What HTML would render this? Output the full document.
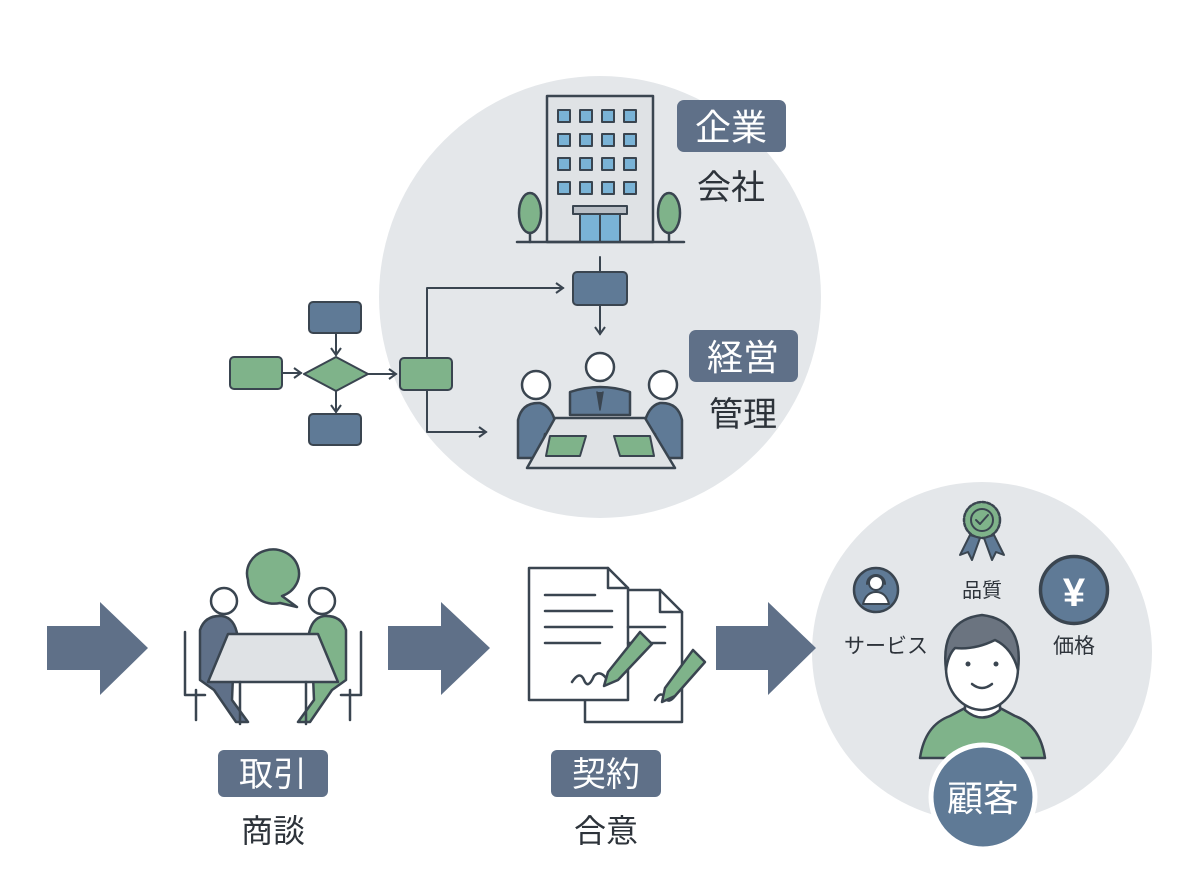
<!DOCTYPE html>
<html><head><meta charset="utf-8"><style>
html,body{margin:0;padding:0;background:#fff}
svg{display:block}
text{font-family:"Liberation Sans","Noto Sans CJK JP",sans-serif}
</style></head><body>
<svg width="1200" height="896" viewBox="0 0 1200 896" xmlns="http://www.w3.org/2000/svg">
<defs>
<marker id="ah" markerWidth="12" markerHeight="12" refX="9" refY="6" orient="auto" markerUnits="userSpaceOnUse">
<path d="M2,1 L9,6 L2,11" fill="none" stroke="#3a4550" stroke-width="2"/>
</marker>
</defs>
<g stroke="#3a4550" stroke-width="2.5" stroke-linejoin="round" stroke-linecap="round">
<!-- circles -->
<circle cx="600" cy="297" r="221" fill="#e4e7ea" stroke="none"/>
<circle cx="982" cy="652" r="170" fill="#e4e7ea" stroke="none"/>

<!-- building -->
<rect x="547" y="96" width="106" height="146" fill="#dfe2e5"/>
<g fill="#7ab3d6" stroke-width="2">
<rect x="558" y="110" width="12" height="12"/><rect x="580" y="110" width="12" height="12"/><rect x="602" y="110" width="12" height="12"/><rect x="624" y="110" width="12" height="12"/>
<rect x="558" y="134" width="12" height="12"/><rect x="580" y="134" width="12" height="12"/><rect x="602" y="134" width="12" height="12"/><rect x="624" y="134" width="12" height="12"/>
<rect x="558" y="158" width="12" height="12"/><rect x="580" y="158" width="12" height="12"/><rect x="602" y="158" width="12" height="12"/><rect x="624" y="158" width="12" height="12"/>
<rect x="558" y="182" width="12" height="12"/><rect x="580" y="182" width="12" height="12"/><rect x="602" y="182" width="12" height="12"/><rect x="624" y="182" width="12" height="12"/>
</g>
<rect x="573" y="206" width="54" height="8" fill="#b8bec5" stroke-width="2"/>
<rect x="580" y="214" width="40" height="28" fill="#7ab3d6" stroke-width="2"/>
<line x1="600" y1="214" x2="600" y2="242" stroke-width="2"/>
<ellipse cx="530" cy="213" rx="11" ry="20" fill="#7fb38a"/><line x1="530" y1="233" x2="530" y2="242"/>
<ellipse cx="669" cy="213" rx="11" ry="20" fill="#7fb38a"/><line x1="669" y1="233" x2="669" y2="242"/>
<line x1="517" y1="242" x2="684" y2="242"/>

<!-- flowchart -->
<line x1="600" y1="257" x2="600" y2="272" stroke-width="2"/>
<rect x="573" y="272" width="54" height="33" rx="4" fill="#5f7a96" stroke-width="2"/>
<line x1="600" y1="305" x2="600" y2="334" stroke-width="2" marker-end="url(#ah)"/>
<rect x="400" y="358" width="52" height="32" rx="4" fill="#7fb38a" stroke-width="2"/>
<path d="M427,358 V288 H563" fill="none" stroke-width="2" marker-end="url(#ah)"/>
<path d="M427,390 V432 H486" fill="none" stroke-width="2" marker-end="url(#ah)"/>
<rect x="230" y="357" width="52" height="32" rx="4" fill="#7fb38a" stroke-width="2"/>
<line x1="282" y1="373" x2="301" y2="373" stroke-width="2" marker-end="url(#ah)"/>
<path d="M304,374 L336,357 L368,374 L336,391 Z" fill="#7fb38a" stroke-width="2"/>
<rect x="309" y="302" width="52" height="31" rx="4" fill="#5f7a96" stroke-width="2"/>
<line x1="336" y1="333" x2="336" y2="355" stroke-width="2" marker-end="url(#ah)"/>
<line x1="336" y1="391" x2="336" y2="412" stroke-width="2" marker-end="url(#ah)"/>
<rect x="309" y="414" width="52" height="31" rx="4" fill="#5f7a96" stroke-width="2"/>
<line x1="368" y1="374" x2="396" y2="374" stroke-width="2" marker-end="url(#ah)"/>

<!-- management meeting -->
<path d="M570,415 V392 Q600,382 630,392 V415 Z" fill="#5f7a96"/>
<path d="M597,392 L600,410 L603,392" fill="#3a4550" stroke-width="1.5"/>
<circle cx="600" cy="367" r="14" fill="#fff"/>
<circle cx="536" cy="385" r="14" fill="#fff"/>
<circle cx="663" cy="385" r="14" fill="#fff"/>
<path d="M518,458 V420 Q522,402 540,403 Q552,406 556,425 L574,432 L560,440 L545,434 L540,458 Z" fill="#5f7a96"/>
<path d="M682,458 V420 Q678,402 660,403 Q648,406 644,425 L626,432 L640,440 L655,434 L660,458 Z" fill="#5f7a96"/>
<path d="M555,418 H645 L675,468 H527 Z" fill="#dfe2e5"/>
<path d="M550,436 H586 L580,456 H546 Z" fill="#7fb38a" stroke-width="2"/>
<path d="M614,436 H650 L654,456 H620 Z" fill="#7fb38a" stroke-width="2"/>

<!-- block arrows -->
<g fill="#5f7088" stroke="none">
<path d="M47,626 H100 V602 L148,648 L100,695 V670 H47 Z"/>
<path d="M388,626 H441 V602 L490,648 L441,695 V670 H388 Z"/>
<path d="M716,626 H768 V602 L816,648 L768,695 V670 H716 Z"/>
</g>

<!-- negotiation meeting -->
<path d="M248,580 A26,24 0 1 1 282,596 L297,607 L280,603 A26,24 0 0 1 248,580 Z" fill="#7fb38a"/>
<circle cx="224" cy="601" r="13" fill="#fff"/>
<circle cx="322" cy="601" r="13" fill="#fff"/>
<path d="M200,680 V630 Q205,615 222,616 Q236,618 238,640 L262,646 L250,656 L234,652 L232,700 L248,722 H236 L214,690 Z" fill="#5f7088"/>
<path d="M346,680 V630 Q341,615 324,616 Q310,618 308,640 L284,646 L296,656 L312,652 L314,700 L298,722 H310 L332,690 Z" fill="#7fb38a"/>
<path d="M185,632 V695 H205" fill="none"/><path d="M361,632 V695 H341" fill="none"/>
<path d="M196,690 V720 M350,690 V720" fill="none"/>
<path d="M228,634 H318 L338,682 H208 Z" fill="#dfe2e5"/>
<path d="M240,682 V724 M306,682 V724" fill="none"/>

<!-- contract -->
<path d="M585,590 H660 L682,612 V722 H585 Z" fill="#fff"/>
<path d="M660,590 V612 H682" fill="none"/>
<path d="M529,568 H608 L628,588 V700 H529 Z" fill="#fff"/>
<path d="M608,568 V588 H628" fill="none"/>
<g stroke-width="2.5">
<line x1="545" y1="595" x2="595" y2="595"/><line x1="545" y1="611" x2="612" y2="611"/>
<line x1="545" y1="627" x2="612" y2="627"/><line x1="545" y1="643" x2="600" y2="643"/>
<line x1="628" y1="627" x2="665" y2="627"/><line x1="628" y1="643" x2="665" y2="643"/>
</g>
<path d="M572,682 q8,-12 12,-2 q4,10 10,-4 q6,-6 12,2" fill="none"/>
<path d="M655,700 q6,-10 10,-2 q4,6 10,-2" fill="none"/>
<path d="M640,632 L652,644 L618,680 L604,686 L608,672 Z" fill="#7fb38a"/>
<path d="M693,650 L705,662 L675,696 L662,702 L665,688 Z" fill="#7fb38a"/>

<!-- customer -->
<circle cx="876" cy="590" r="22" fill="#5f7a96"/>
<circle cx="876" cy="583" r="7" fill="#fff" stroke-width="2"/>
<path d="M863,604 Q866,592 876,592 Q886,592 889,604 Z" fill="#fff" stroke-width="2"/>
<path d="M867,584 A9,9 0 0 1 885,584" fill="none" stroke-width="2"/>
<circle cx="1074" cy="590" r="34" fill="#5f7a96" transform="translate(0,0) scale(1)" r2="0"/>
<circle cx="982" cy="520" r="18" fill="#7fb38a" stroke-dasharray="3 2"/>
<circle cx="982" cy="520" r="11" fill="#7fb38a" stroke-width="2"/>
<path d="M976,520 L980,524 L988,515" fill="none" stroke-width="2"/>
<path d="M970,535 L960,555 L968,552 L972,560 L980,538 Z M994,535 L1004,555 L996,552 L992,560 L984,538 Z" fill="#5f7a96" stroke-width="2"/>
<path d="M920,758 Q925,725 950,716 L965,708 H1000 L1015,716 Q1040,725 1045,758 Z" fill="#7fb38a"/>
<path d="M965,695 V710 Q982,725 1000,710 V695 Z" fill="#fff"/>
<ellipse cx="982" cy="668" rx="36" ry="42" fill="#fff"/>
<path d="M946,670 Q940,620 982,615 Q1024,620 1018,670 Q1012,648 995,640 Q975,650 955,648 Q948,655 946,670 Z" fill="#6b7480"/>
<circle cx="968" cy="664" r="2.5" fill="#3a4550" stroke="none"/>
<circle cx="996" cy="664" r="2.5" fill="#3a4550" stroke="none"/>
<path d="M972,684 Q982,692 992,684" fill="none"/>
<circle cx="983" cy="797" r="52" fill="#5f7a96" stroke="#fff" stroke-width="5"/>
</g>
<circle cx="1074" cy="590" r="33" fill="#5f7a96" stroke="#3a4550" stroke-width="2.5"/>
<text x="1074" y="606" font-size="40" font-weight="bold" fill="#fff" text-anchor="middle">¥</text>

<!-- labels -->
<rect x="677" y="100" width="109" height="52" rx="7" fill="#5f7088"/>
<text x="731" y="140" font-size="36" fill="#fff" text-anchor="middle">企業</text>
<text x="731" y="199" font-size="34" fill="#2d333a" text-anchor="middle">会社</text>
<rect x="689" y="330" width="109" height="52" rx="7" fill="#5f7088"/>
<text x="743" y="370" font-size="36" fill="#fff" text-anchor="middle">経営</text>
<text x="743" y="426" font-size="34" fill="#2d333a" text-anchor="middle">管理</text>
<rect x="218" y="750" width="110" height="47" rx="6" fill="#5f7088"/>
<text x="273" y="786" font-size="34" fill="#fff" text-anchor="middle">取引</text>
<text x="273" y="842" font-size="32" fill="#2d333a" text-anchor="middle">商談</text>
<rect x="551" y="750" width="110" height="47" rx="6" fill="#5f7088"/>
<text x="606" y="786" font-size="34" fill="#fff" text-anchor="middle">契約</text>
<text x="606" y="842" font-size="32" fill="#2d333a" text-anchor="middle">合意</text>
<text x="982" y="597" font-size="20" fill="#2d333a" text-anchor="middle">品質</text>
<text x="886" y="653" font-size="21" fill="#2d333a" text-anchor="middle">サービス</text>
<text x="1074" y="653" font-size="21" fill="#2d333a" text-anchor="middle">価格</text>
<text x="983" y="811" font-size="36" fill="#fff" text-anchor="middle">顧客</text>
</svg>
</body></html>
